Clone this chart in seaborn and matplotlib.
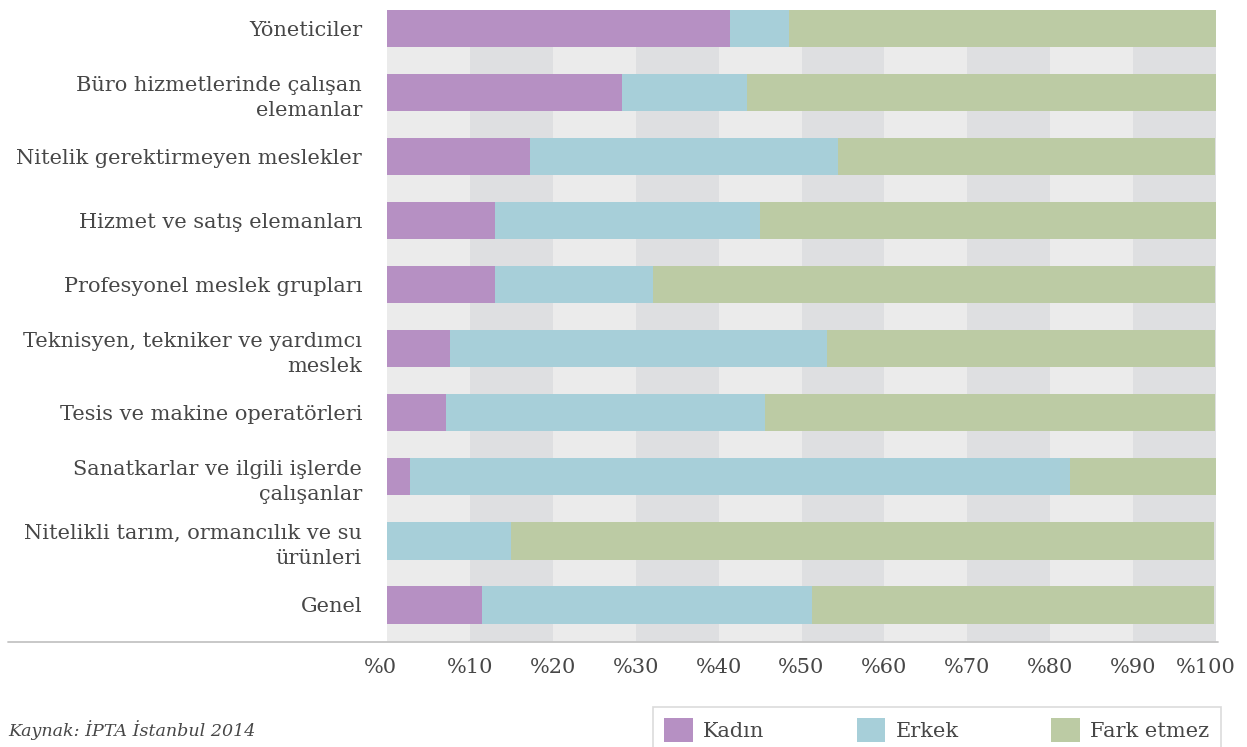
import matplotlib
matplotlib.use("Agg")
import matplotlib.pyplot as plt
from matplotlib.lines import Line2D
from matplotlib.patches import Patch
from matplotlib.transforms import ScaledTranslation
import numpy as np
import pandas as pd
import seaborn as sns

# Occupation groups and the share (%) preferring a woman, a man, or either
categories = [
    "Yöneticiler",
    "Büro hizmetlerinde çalışan\nelemanlar",
    "Nitelik gerektirmeyen meslekler",
    "Hizmet ve satış elemanları",
    "Profesyonel meslek grupları",
    "Teknisyen, tekniker ve yardımcı\nmeslek",
    "Tesis ve makine operatörleri",
    "Sanatkarlar ve ilgili işlerde\nçalışanlar",
    "Nitelikli tarım, ormancılık ve su\nürünleri",
    "Genel",
]
kadin = [41.4, 28.3, 17.2, 13.0, 13.0, 7.6, 7.1, 2.8, 0.0, 11.5]
erkek = [7.1, 15.1, 37.2, 32.0, 19.1, 45.5, 38.5, 79.6, 15.0, 39.8]
fark_etmez = [51.5, 56.6, 45.5, 55.0, 67.8, 46.8, 54.3, 17.6, 84.8, 48.5]

series_names = ["Kadın", "Erkek", "Fark etmez"]
x_ticks = list(range(0, 101, 10))
x_tick_labels = [f"%{v}" for v in x_ticks]
source_note = "Kaynak: İPTA İstanbul 2014"

colors = {"Kadın": "#b690c3", "Erkek": "#a7cfd9", "Fark etmez": "#bccba4"}
band_light = "#ebebeb"
band_dark = "#dedfe1"
text_color = "#474747"
FS = 15

sns.set_theme(style="white")
plt.rcParams["font.family"] = ["DejaVu Serif"]

df = pd.DataFrame({"Meslek": categories, "Kadın": kadin,
                   "Erkek": erkek, "Fark etmez": fark_etmez})
# cumulative ends for stacking: widest drawn first, narrower ones on top
df["c_fark"] = df["Kadın"] + df["Erkek"] + df["Fark etmez"]
df["c_erkek"] = df["Kadın"] + df["Erkek"]
df["c_kadin"] = df["Kadın"]

W, H = 1247, 747
fig = plt.figure(figsize=(W / 100, H / 100), dpi=100)
ax = fig.add_axes([387 / W, 1 - 641.5 / H, 829 / W, (641.5 - 10) / H])

# alternating vertical bands every 10 points
for i in range(10):
    ax.axvspan(i * 10, (i + 1) * 10, color=band_light if i % 2 == 0 else band_dark,
               zorder=0, lw=0)

for col, name in [("c_fark", "Fark etmez"), ("c_erkek", "Erkek"), ("c_kadin", "Kadın")]:
    sns.barplot(data=df, x=col, y="Meslek", order=categories, orient="h",
                color=colors[name], saturation=1, width=0.58, ax=ax,
                linewidth=0, zorder=2)

ax.set_xlim(0, 100)
ax.set_ylim(9.57, -0.29)
ax.set_xlabel("")
ax.set_ylabel("")
for s in ax.spines.values():
    s.set_visible(False)

ax.set_xticks(x_ticks)
ax.set_xticklabels(x_tick_labels)
ax.tick_params(axis="x", length=0, pad=12, labelsize=FS, labelcolor=text_color)
ax.tick_params(axis="y", length=0, pad=18, labelsize=FS, labelcolor=text_color)
for lbl in ax.get_yticklabels():
    lbl.set_linespacing(1.4)
    lbl.set_horizontalalignment("right")

# nudge the end labels inward so they sit within the figure
xlabels = ax.get_xticklabels()
xlabels[0].set_transform(xlabels[0].get_transform()
                         + ScaledTranslation(-7 / 100, 0, fig.dpi_scale_trans))
xlabels[-1].set_transform(xlabels[-1].get_transform()
                          + ScaledTranslation(-10 / 100, 0, fig.dpi_scale_trans))

# baseline rule under the chart
fig.add_artist(Line2D([8 / W, 1218 / W], [1 - 641.8 / H, 1 - 641.8 / H],
                      transform=fig.transFigure, color="#c4c4c4", lw=1.3))

fig.text(8 / W, 1 - 730 / H, source_note, style="italic", fontsize=12.6,
         color=text_color, va="center", ha="left")

handles = [Patch(facecolor=colors[n], edgecolor="none", label=n) for n in series_names]
leg = fig.legend(handles=handles, loc="upper left",
                 bbox_to_anchor=(653 / W, 1 - 707 / H), ncol=3,
                 frameon=True, fancybox=False, fontsize=FS,
                 handlelength=1.35, handleheight=1.35, handletextpad=0.5,
                 columnspacing=4.45, borderpad=0.55, borderaxespad=0)
leg.get_frame().set_edgecolor("#d2d2d2")
leg.get_frame().set_linewidth(1.2)
for t in leg.get_texts():
    t.set_color(text_color)

fig.savefig("out.png", dpi=100)
